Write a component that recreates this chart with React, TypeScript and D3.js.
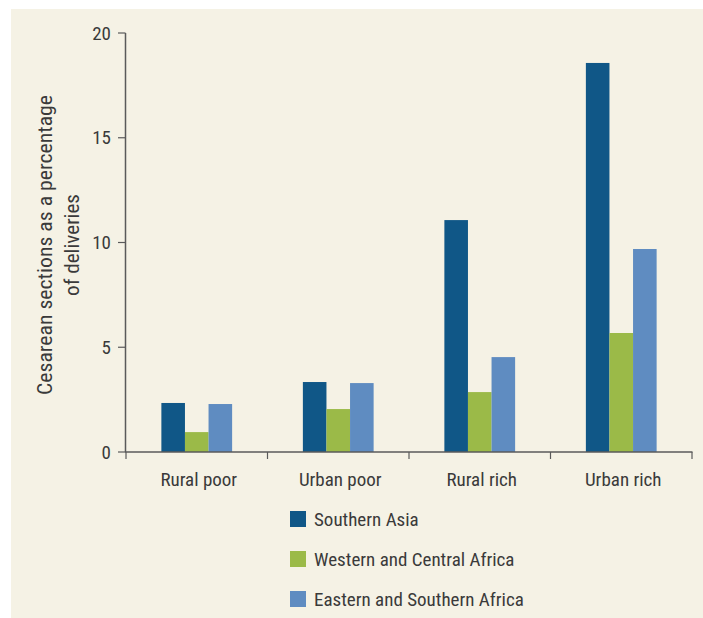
import React from "react";
import * as d3 from "d3";

const categories = ["Rural poor", "Urban poor", "Rural rich", "Urban rich"];
const seriesNames = ["Southern Asia", "Western and Central Africa", "Eastern and Southern Africa"];
const southernAsia = [2.34, 3.34, 11.07, 18.57];
const westernCentralAfrica = [0.95, 2.05, 2.86, 5.68];
const easternSouthernAfrica = [2.29, 3.29, 4.53, 9.69];
const yTicks = [0, 5, 10, 15, 20];
const colors = ["#105787", "#9BBA48", "#5F8CC1"];

const W = 703;
const H = 618;
const FONT = "'Liberation Sans Narrow', 'Roboto Condensed', 'Arial Narrow', Roboto, sans-serif";
const TEXT = "#3a3a3a";
const AXIS = "#5a5a5a";

export default function App() {
  const series = [southernAsia, westernCentralAfrica, easternSouthernAfrica];
  const x0 = d3.scaleBand<string>().domain(categories).range([126, 692]).paddingInner(0).paddingOuter(0);
  const x1 = d3.scaleBand<string>().domain(seriesNames).range([0, x0.bandwidth()]).paddingOuter(1.5).paddingInner(0);
  const y = d3.scaleLinear().domain([0, 20]).range([452, 33]);

  return (
    <svg width={W} height={H} style={{ position: "absolute", left: 0, top: 0, display: "block" }}>
      <rect x={0} y={0} width={W} height={H} fill="#ffffff" />
      <rect x={11} y={9} width={W - 11} height={H - 9} fill="#F5F2E5" />
      {categories.map((c, ci) => (
        <g key={c} transform={`translate(${x0(c)},0)`}>
          {seriesNames.map((s, si) => (
            <rect
              key={s}
              x={x1(s)!}
              y={y(series[si][ci])}
              width={x1.bandwidth()}
              height={y(0) - y(series[si][ci])}
              fill={colors[si]}
            />
          ))}
        </g>
      ))}
      {/* y axis */}
      <line x1={125.5} x2={125.5} y1={y(20)} y2={y(0)} stroke={AXIS} strokeWidth={1.5} />
      {yTicks.map((t) => (
        <g key={t}>
          <line x1={118} x2={125.5} y1={y(t)} y2={y(t)} stroke={AXIS} strokeWidth={1.2} />
          <text x={111} y={y(t)} dy="0.35em" textAnchor="end" fontFamily={FONT} fontSize={19} fill={TEXT}>
            {t}
          </text>
        </g>
      ))}
      {/* x axis */}
      <line x1={125} x2={692.5} y1={y(0)} y2={y(0)} stroke={AXIS} strokeWidth={1.5} />
      {categories.map((c, i) => (
        <line key={"t" + i} x1={x0(c)!} x2={x0(c)!} y1={y(0)} y2={y(0) + 7} stroke={AXIS} strokeWidth={1.2} />
      ))}
      <line x1={692} x2={692} y1={y(0)} y2={y(0) + 7} stroke={AXIS} strokeWidth={1.2} />
      {categories.map((c) => (
        <text
          key={c}
          x={x0(c)! + x0.bandwidth() / 2 + 2}
          y={486}
          textAnchor="middle"
          fontFamily={FONT}
          fontSize={19}
          fill={TEXT}
        >
          {c}
        </text>
      ))}
      {/* y title */}
      <g transform="translate(52,245) rotate(-90)">
        <text x={0} y={0} textAnchor="middle" fontFamily={FONT} fontSize={20} fill={TEXT} textLength={300} lengthAdjust="spacingAndGlyphs">
          Cesarean sections as a percentage
        </text>
        <text x={0} y={27} textAnchor="middle" fontFamily={FONT} fontSize={20} fill={TEXT} textLength={102} lengthAdjust="spacingAndGlyphs">
          of deliveries
        </text>
      </g>
      {/* legend */}
      {seriesNames.map((s, i) => (
        <g key={s} transform={`translate(290,${511 + i * 40})`}>
          <rect x={0} y={0} width={16} height={16} fill={colors[i]} />
          <text x={24} y={8} dy="0.36em" fontFamily={FONT} fontSize={19} fill={TEXT}>
            {s}
          </text>
        </g>
      ))}
    </svg>
  );
}
